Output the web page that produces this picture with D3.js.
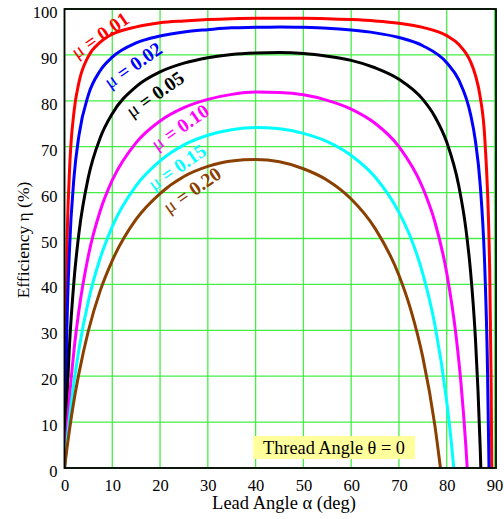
<!DOCTYPE html>
<html><head><meta charset="utf-8">
<script src="https://cdn.jsdelivr.net/npm/d3@7/dist/d3.min.js"></script>
<style>body{margin:0;background:#fff}svg{display:block}text{font-family:"Liberation Serif","Times New Roman",serif}</style>
</head><body>
<svg id="c" width="504" height="519"></svg>
<script>
const xTicks = [0,10,20,30,40,50,60,70,80,90];
const yTicks = [0,10,20,30,40,50,60,70,80,90,100];
const mu = ["0.01","0.02","0.05","0.10","0.15","0.20"];
const colors = ["#ff0000","#0000ff","#000000","#ff00ff","#00ffff","#8b4000"];

const eta001 = [[0,0],[0.5,46.6],[1,63.6],[2,77.7],[3,83.9],[5,89.7],[7.5,92.8],[10,94.5],[15,96.1],[20,97.0],[25,97.4],[30,97.7],[35,97.9],[40,98.0],[45,98.0],[50,98.0],[55,97.9],[60,97.7],[65,97.4],[70,96.9],[75,96.0],[80,94.2],[82.5,92.3],[85,88.5],[86,85.6],[87,80.9],[88,71.3],[89,42.7],[89.3,18.2],[89.43,0]];
const eta002 = [[0,0],[0.5,30.4],[1,46.6],[2,63.5],[3,72.3],[5,81.3],[7.5,86.6],[10,89.5],[15,92.6],[20,94.1],[25,95.0],[30,95.5],[35,95.9],[40,96.0],[45,96.1],[50,96.0],[55,95.8],[60,95.4],[65,94.8],[70,93.8],[75,92.0],[80,88.3],[82.5,84.6],[85,77.0],[86,71.3],[87,61.8],[88,42.7],[88.5,23.6],[88.85,0]];
const eta005 = [[0,0],[0.5,14.9],[1,25.9],[2,41.0],[3,51.0],[5,63.4],[7.5,72.0],[10,77.2],[15,83.1],[20,86.3],[25,88.2],[30,89.4],[35,90.1],[40,90.4],[45,90.5],[50,90.3],[55,89.7],[60,88.8],[65,87.2],[70,84.7],[75,80.3],[77.5,76.6],[80,71.0],[82.5,61.6],[84,52.2],[85,42.7],[86,28.4],[87,4.6],[87.14,0]];
const eta010 = [[0,0],[0.5,8.0],[1,14.8],[2,25.8],[3,34.2],[5,46.3],[7.5,56.1],[10,62.7],[15,70.9],[20,75.6],[25,78.5],[30,80.3],[35,81.4],[40,81.9],[45,81.8],[50,81.3],[55,80.1],[60,78.2],[65,75.1],[70,70.0],[75,61.0],[77.5,53.7],[80,42.5],[82,28.4],[83,18.3],[84,4.8],[84.29,0]];
const eta015 = [[0,0],[0.5,5.5],[1,10.4],[2,18.8],[3,25.7],[5,36.4],[7.5,45.8],[10,52.6],[15,61.5],[20,66.9],[25,70.4],[30,72.5],[35,73.7],[40,74.2],[45,73.9],[50,72.9],[55,71.1],[60,68.1],[65,63.4],[70,55.7],[72.5,50.1],[75,42.3],[77.5,31.3],[80,14.5],[81,5.2],[81.47,0]];
const eta020 = [[0,0],[0.5,4.2],[1,8.0],[2,14.8],[3,20.5],[5,29.9],[7.5,38.7],[10,45.2],[15,54.2],[20,59.8],[25,63.5],[30,65.7],[35,66.9],[40,67.2],[45,66.7],[50,65.2],[55,62.7],[60,58.6],[65,52.2],[70,42.0],[72.5,34.4],[75,24.1],[77.5,9.4],[78.69,0]];
const series = [eta001,eta002,eta005,eta010,eta015,eta020];

const svg = d3.select("#c");
const L=64.5, R=494.5, T=9, B=468;
const x = d3.scaleLinear().domain([0,90]).range([L,R]);
const y = d3.scaleLinear().domain([0,100]).range([B,T]);

// grid
const grid = svg.append("g");
grid.selectAll(".gx").data(xTicks).join("line")
  .attr("x1",d=>x(d)).attr("x2",d=>x(d)).attr("y1",T).attr("y2",B)
  .attr("stroke","#44ee44").attr("stroke-width",1.3);
grid.selectAll(".gy").data(yTicks).join("line")
  .attr("y1",d=>y(d)).attr("y2",d=>y(d)).attr("x1",L).attr("x2",R)
  .attr("stroke","#44ee44").attr("stroke-width",1.3);

// annotation box
const bx = svg.append("g");
bx.append("rect").attr("x",253).attr("y",436).attr("width",162).attr("height",23).attr("fill","#ffff9c");
bx.append("text").attr("x",334).attr("y",454).attr("text-anchor","middle").attr("font-size",18.3).text("Thread Angle θ = 0");

// curves
const line = d3.line().x(d=>x(d[0])).y(d=>y(d[1])).curve(d3.curveMonotoneX);
svg.append("defs").append("clipPath").attr("id","cp").append("rect").attr("x",L).attr("y",T-2).attr("width",R-L+1).attr("height",B-T+2);
svg.append("g").attr("clip-path","url(#cp)").selectAll("path").data(series).join("path")
  .attr("d",line).attr("fill","none").attr("stroke",(d,i)=>colors[i]).attr("stroke-width",3).attr("stroke-linejoin","round");

// frame
svg.append("rect").attr("x",L).attr("y",T).attr("width",R-L+1.5).attr("height",B-T)
  .attr("fill","none").attr("stroke","#000").attr("stroke-width",1.8);

// axes
const xa = svg.append("g").attr("transform",`translate(0,${B})`)
  .call(d3.axisBottom(x).tickValues(xTicks).tickSize(0).tickPadding(11));
xa.select(".domain").remove();
xa.selectAll("text").attr("font-size",16.5).attr("font-family","Liberation Serif").attr("fill","#000");
const ya = svg.append("g").attr("transform",`translate(${L},0)`)
  .call(d3.axisLeft(y).tickValues(yTicks).tickSize(0).tickPadding(7));
ya.select(".domain").remove();
ya.selectAll("text").attr("font-size",16.5).attr("font-family","Liberation Serif").attr("fill","#000").attr("dy","0.52em");

svg.append("text").attr("x",284).attr("y",509).attr("text-anchor","middle").attr("font-size",18.5).text("Lead Angle α (deg)");
svg.append("text").attr("transform","translate(29,240) rotate(-90)").attr("text-anchor","middle").attr("font-size",17.5).text("Efficiency η (%)");

// curve labels
const labelPos = [[100,35],[133,65],[155,94],[180,127],[177,167],[192,190]];
const lg = svg.append("g");
labelPos.forEach((p,i)=>{
  const t = lg.append("text").attr("transform",`translate(${p[0]},${p[1]}) rotate(-35)`)
    .attr("text-anchor","middle").attr("dy","0.35em").attr("font-size",19.5).attr("fill",colors[i]);
  t.append("tspan").text("μ");
  t.append("tspan").attr("font-weight","bold").text(" = "+mu[i]);
});
</script>
</body></html>
